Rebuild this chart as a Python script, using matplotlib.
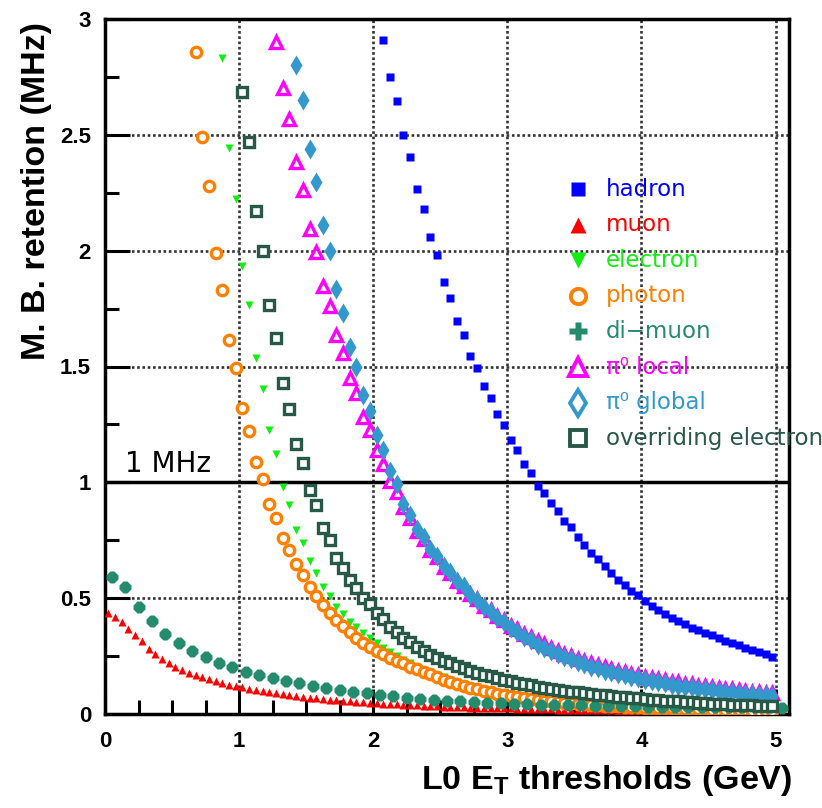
import numpy as np
import matplotlib
matplotlib.use("Agg")
import matplotlib.pyplot as plt
from matplotlib.ticker import MultipleLocator

plt.rcParams["font.family"] = ["Liberation Sans", "DejaVu Sans"]
plt.rcParams["mathtext.fontset"] = "custom"
plt.rcParams["mathtext.rm"] = "Liberation Sans"
plt.rcParams["mathtext.bf"] = "Liberation Sans:bold"

# threshold scan: first threshold (GeV) and step for every trigger
step = 0.05

hadron_start = 2.075
hadron = [2.908, 2.750, 2.645, 2.499, 2.405, 2.266, 2.180, 2.060, 1.981, 1.863,
          1.796, 1.698, 1.637, 1.547, 1.493, 1.414, 1.363, 1.293, 1.246, 1.181,
          1.138, 1.078, 1.042, 0.985, 0.952, 0.910, 0.877, 0.834, 0.806, 0.765,
          0.730, 0.694, 0.668, 0.637, 0.608, 0.580, 0.557, 0.533, 0.513, 0.489,
          0.467, 0.451, 0.432, 0.416, 0.401, 0.387, 0.373, 0.361, 0.350, 0.339,
          0.328, 0.316, 0.306, 0.296, 0.286, 0.276, 0.266, 0.257, 0.248]

muon_start = 0.025
muon = [0.435, 0.418, 0.396, 0.368, 0.340, 0.313, 0.281, 0.258, 0.238, 0.219,
        0.204, 0.190, 0.178, 0.168, 0.158, 0.149, 0.141, 0.134, 0.127, 0.121,
        0.115, 0.109, 0.104, 0.099, 0.094, 0.089, 0.085, 0.081, 0.077, 0.074,
        0.071, 0.068, 0.065, 0.062, 0.060, 0.057, 0.055, 0.053, 0.051, 0.049,
        0.047, 0.045, 0.043, 0.042, 0.040, 0.039, 0.037, 0.036, 0.035, 0.034,
        0.032, 0.031, 0.030, 0.029, 0.028, 0.027, 0.027, 0.026, 0.025, 0.024,
        0.024, 0.023, 0.022, 0.022, 0.021, 0.020, 0.020, 0.019, 0.019, 0.018,
        0.018, 0.017, 0.017, 0.016, 0.016, 0.016, 0.015, 0.015, 0.015, 0.014,
        0.014, 0.014, 0.013, 0.013, 0.013, 0.012, 0.012, 0.012, 0.012, 0.011,
        0.011, 0.011, 0.011, 0.010, 0.010, 0.010, 0.010, 0.010, 0.009, 0.009]

electron_start = 0.875
electron = [2.833, 2.445, 2.223, 1.935, 1.767, 1.538, 1.404, 1.227, 1.121, 0.980,
            0.904, 0.793, 0.738, 0.661, 0.609, 0.549, 0.509, 0.462, 0.431, 0.398,
            0.374, 0.348, 0.326, 0.305, 0.285, 0.267, 0.250, 0.234, 0.219, 0.205,
            0.192, 0.180, 0.168, 0.158, 0.148, 0.139, 0.130, 0.122, 0.115, 0.108,
            0.102, 0.096, 0.090, 0.085, 0.080, 0.076, 0.072, 0.068, 0.064, 0.061,
            0.058, 0.055, 0.052, 0.050, 0.048, 0.045, 0.043, 0.041, 0.040, 0.038,
            0.036, 0.035, 0.033, 0.032, 0.031, 0.030, 0.029, 0.028, 0.027, 0.026,
            0.025, 0.024, 0.023, 0.022, 0.022, 0.021, 0.020, 0.020, 0.019, 0.018,
            0.018, 0.017, 0.017]

photon_start = 0.675
photon = [2.859, 2.491, 2.277, 1.988, 1.832, 1.615, 1.493, 1.322, 1.221, 1.088,
          1.016, 0.908, 0.844, 0.760, 0.707, 0.647, 0.599, 0.549, 0.509, 0.470,
          0.437, 0.405, 0.379, 0.352, 0.330, 0.307, 0.290, 0.273, 0.257, 0.243,
          0.228, 0.218, 0.204, 0.193, 0.182, 0.172, 0.158, 0.148, 0.139, 0.130,
          0.122, 0.114, 0.107, 0.100, 0.094, 0.088, 0.083, 0.078, 0.073, 0.069,
          0.065, 0.061, 0.058, 0.055, 0.052, 0.049, 0.047, 0.044, 0.042, 0.040,
          0.038, 0.036, 0.035, 0.033, 0.032, 0.030, 0.029, 0.028, 0.027, 0.026,
          0.025, 0.024, 0.023, 0.022, 0.021, 0.020, 0.020, 0.019, 0.018, 0.018,
          0.017, 0.016, 0.016, 0.015, 0.015, 0.014, 0.014]

dimuon_start = 0.05
dimuon_step = 0.1
dimuon = [0.592, 0.549, 0.460, 0.402, 0.345, 0.305, 0.272, 0.247, 0.222, 0.202,
          0.181, 0.167, 0.154, 0.142, 0.132, 0.121, 0.111, 0.103, 0.096, 0.089,
          0.082, 0.076, 0.071, 0.066, 0.062, 0.058, 0.055, 0.052, 0.049, 0.047,
          0.045, 0.043, 0.041, 0.040, 0.038, 0.037, 0.036, 0.035, 0.034, 0.033,
          0.032, 0.032, 0.031, 0.031, 0.030, 0.030, 0.030, 0.029, 0.029, 0.029,
          0.028]

pi0_local_start = 1.275
pi0_local = [2.902, 2.704, 2.568, 2.381, 2.262, 2.093, 1.993, 1.849, 1.759, 1.634,
             1.557, 1.451, 1.385, 1.281, 1.227, 1.138, 1.081, 1.006, 0.958, 0.892,
             0.848, 0.792, 0.755, 0.706, 0.676, 0.635, 0.610, 0.574, 0.552, 0.519,
             0.498, 0.468, 0.449, 0.423, 0.406, 0.382, 0.367, 0.346, 0.332, 0.313,
             0.301, 0.284, 0.274, 0.260, 0.251, 0.238, 0.230, 0.219, 0.212, 0.202,
             0.196, 0.187, 0.181, 0.173, 0.168, 0.161, 0.157, 0.150, 0.146, 0.140,
             0.137, 0.131, 0.128, 0.123, 0.120, 0.115, 0.113, 0.108, 0.106, 0.102,
             0.100, 0.096, 0.094, 0.091, 0.089]

pi0_global_start = 1.425
pi0_global = [2.802, 2.649, 2.438, 2.297, 2.112, 1.997, 1.835, 1.730, 1.583, 1.500,
              1.379, 1.307, 1.203, 1.138, 1.049, 0.994, 0.905, 0.860, 0.800, 0.765,
              0.712, 0.683, 0.640, 0.614, 0.575, 0.551, 0.515, 0.492, 0.460, 0.440,
              0.413, 0.395, 0.370, 0.354, 0.333, 0.318, 0.299, 0.287, 0.270, 0.259,
              0.245, 0.236, 0.223, 0.215, 0.204, 0.197, 0.187, 0.181, 0.172, 0.167,
              0.159, 0.154, 0.147, 0.143, 0.136, 0.132, 0.127, 0.123, 0.118, 0.115,
              0.110, 0.107, 0.103, 0.100, 0.096, 0.094, 0.090, 0.088, 0.085, 0.083,
              0.080, 0.078]

overriding_start = 1.025
overriding = [2.683, 2.467, 2.172, 2.000, 1.766, 1.624, 1.430, 1.318, 1.167, 1.083,
              0.966, 0.901, 0.805, 0.750, 0.675, 0.632, 0.578, 0.546, 0.501, 0.474,
              0.434, 0.408, 0.376, 0.355, 0.330, 0.309, 0.290, 0.271, 0.255, 0.243,
              0.229, 0.219, 0.206, 0.197, 0.186, 0.178, 0.169, 0.162, 0.154, 0.148,
              0.141, 0.135, 0.129, 0.124, 0.118, 0.114, 0.109, 0.105, 0.100, 0.097,
              0.093, 0.090, 0.086, 0.083, 0.080, 0.077, 0.074, 0.072, 0.069, 0.067,
              0.064, 0.062, 0.060, 0.058, 0.056, 0.054, 0.052, 0.050, 0.049, 0.047,
              0.045, 0.044, 0.042, 0.041, 0.039, 0.038, 0.037, 0.035, 0.034, 0.033]

labels = ["hadron", "muon", "electron", "photon", "di\u2212muon",
          "\u03c0\u2070 local", "\u03c0\u2070 global", "overriding electron"]
xticks = [0, 1, 2, 3, 4, 5]
xtick_labels = ["0", "1", "2", "3", "4", "5"]
yticks = [0, 0.5, 1, 1.5, 2, 2.5, 3]
ytick_labels = ["0", "0.5", "1", "1.5", "2", "2.5", "3"]


def thresholds(start, values, dx=step):
    return start + dx * np.arange(len(values))


colors = ["#0000ff", "#ff0000", "#11ee11", "#ff8000", "#248c6c",
          "#ff00ff", "#3399cc", "#285848"]
styles = [
    dict(marker="s", ms=6.3, mec="none"),
    dict(marker="^", ms=5.8, mec="none"),
    dict(marker="v", ms=6.3, mec="none"),
    dict(marker="o", ms=7.5, mfc="white", mew=2.4),
    dict(marker="8", ms=8.6, mec="none"),
    dict(marker="^", ms=9, mfc="white", mew=2.4),
    dict(marker="d", ms=10, mec="none"),
    dict(marker="s", ms=7.2, mfc="white", mew=2.4),
]
legend_styles = [
    dict(marker="s", ms=10, mec="none"),
    dict(marker="^", ms=11, mec="none"),
    dict(marker="v", ms=11, mec="none"),
    dict(marker="o", ms=11, mfc="white", mew=2.8),
    dict(marker="P", ms=13, mec="none"),
    dict(marker="^", ms=13, mfc="white", mew=2.8),
    dict(marker="d", ms=13, mfc="white", mew=2.8),
    dict(marker="s", ms=11, mfc="white", mew=2.8),
]

series = [
    thresholds(hadron_start, hadron), hadron,
    thresholds(muon_start, muon), muon,
    thresholds(electron_start, electron), electron,
    thresholds(photon_start, photon), photon,
    thresholds(dimuon_start, dimuon, dimuon_step), dimuon,
    thresholds(pi0_local_start, pi0_local), pi0_local,
    thresholds(pi0_global_start, pi0_global), pi0_global,
    thresholds(overriding_start, overriding), overriding,
]

fig = plt.figure(figsize=(8.22, 8.08), dpi=100)
ax = fig.add_axes([105 / 822, 94 / 808, 684 / 822, 695 / 808])

for i in range(len(labels)):
    x = series[2 * i]
    y = series[2 * i + 1]
    st = styles[i]
    ax.plot(x, y, ls="none", color=colors[i], mec=st.get("mec", colors[i]),
            **{k: v for k, v in st.items() if k != "mec"}, zorder=3 + i * 0.1)

ax.set_xlim(0, 5.1)
ax.set_ylim(0, 3)
ax.set_xticks(xticks, labels=xtick_labels)
ax.set_yticks(yticks, labels=ytick_labels)
ax.xaxis.set_minor_locator(MultipleLocator(0.25))
ax.yaxis.set_minor_locator(MultipleLocator(0.25))
ax.tick_params(which="major", direction="in", length=18, width=2.2,
               labelsize=16, top=False, right=False)
ax.tick_params(which="minor", direction="in", length=10, width=2.2,
               top=False, right=False)
ax.tick_params(axis="x", pad=12)
ax.tick_params(axis="y", pad=10)
for lbl in ax.get_xticklabels() + ax.get_yticklabels():
    lbl.set_fontweight("bold")
for sp in ax.spines.values():
    sp.set_linewidth(2.5)

ax.grid(True, which="major", color="#333333", lw=1.9, ls=(0, (1, 1)))
ax.set_axisbelow(True)
ax.axhline(1, color="black", lw=2.5, zorder=2)
ax.text(0.15, 1.02, "1 MHz", fontsize=20, family="DejaVu Sans", va="bottom")

# legend drawn by hand: markers and coloured names, running past the frame
for i, name in enumerate(labels):
    yf = 1 - (189 + 35.6 * i) / 808
    st = legend_styles[i]
    ax.plot([578 / 822], [yf], ls="none", color=colors[i],
            mec=st.get("mec", colors[i]),
            **{k: v for k, v in st.items() if k != "mec"},
            transform=fig.transFigure, clip_on=False)
    fig.text(606 / 822, yf, name, color=colors[i], fontsize=16.5,
             family="DejaVu Sans", va="center", ha="left")

fig.text(792 / 822, 1 - 780 / 808, r"L0 E$_\mathbf{T}$ thresholds (GeV)",
         fontsize=24.5, fontweight="bold", ha="right", va="center")
fig.text(37 / 822, 1 - 22 / 808, "M. B. retention (MHz)", fontsize=24.5,
         fontweight="bold", rotation=90, ha="center", va="top")

fig.savefig("out.png", dpi=100)
